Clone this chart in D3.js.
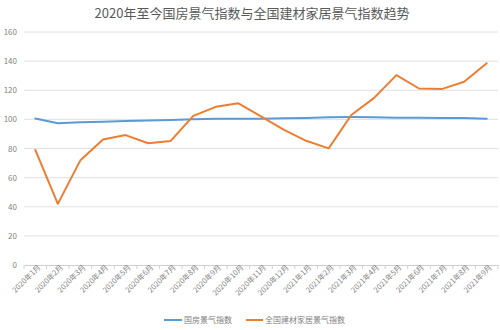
<!DOCTYPE html>
<html><head><meta charset="utf-8">
<script src="https://cdn.jsdelivr.net/npm/d3@7"></script>
<style>body{margin:0;background:#fff}svg{display:block}</style>
</head><body>
<svg id="c" width="500" height="330"></svg>
<script>
const categories = ["2020年1月","2020年2月","2020年3月","2020年4月","2020年5月","2020年6月","2020年7月","2020年8月","2020年9月","2020年10月","2020年11月","2020年12月","2021年1月","2021年2月","2021年3月","2021年4月","2021年5月","2021年6月","2021年7月","2021年8月","2021年9月"];
const guofang = [100.6,97.4,98.0,98.4,98.8,99.2,99.6,100.1,100.4,100.5,100.5,100.7,101.0,101.4,101.6,101.5,101.2,101.1,101.0,100.9,100.5];
const jiancai = [79,42,72,86.2,89.2,83.6,85.2,102.4,108.6,111,102,93,85.3,80.1,103,114.6,130.4,121.2,120.8,125.8,138.5];
const yTicks = [0,20,40,60,80,100,120,140,160];
const seriesNames = ["国房景气指数","全国建材家居景气指数"];
const colors = ["#5b9bd5","#ed7d31"];

const svg = d3.select("#c");
const font = "'Noto Sans CJK SC', 'Noto Sans', sans-serif";
const L = 24, R = 498, T = 32, B = 265;
const x = d3.scaleBand().domain(categories).range([L, R]);
const y = d3.scaleLinear().domain([0,160]).range([B, T]);

svg.append("text").attr("x",252).attr("y",18).attr("text-anchor","middle")
  .attr("font-family",font).attr("font-size",13).attr("fill","#595959")
  .text("2020年至今国房景气指数与全国建材家居景气指数趋势");

// gridlines
svg.append("g").selectAll("line").data(yTicks.filter(d=>d>0)).join("line")
  .attr("x1",L).attr("x2",R).attr("y1",d=>y(d)).attr("y2",d=>y(d))
  .attr("stroke","#e0e0e0").attr("stroke-width",1);

// y labels
svg.append("g").selectAll("text").data(yTicks).join("text")
  .attr("x",17).attr("y",d=>y(d)+3).attr("text-anchor","end")
  .attr("font-family",font).attr("font-size",8).attr("fill","#7f7f7f")
  .text(d=>d);

// x axis
const xa = svg.append("g").attr("transform",`translate(0,${B})`)
  .call(d3.axisBottom(x).tickSize(4).tickSizeOuter(0));
xa.select(".domain").attr("stroke","#d0d0d0");
xa.selectAll(".tick line").attr("stroke","#d0d0d0")
  .attr("transform",`translate(${-x.bandwidth()/2},0)`);
xa.selectAll(".tick text").attr("font-family",font).attr("font-size",7.5).attr("fill","#7f7f7f")
  .attr("text-anchor","end").attr("dy",0).attr("y",6).attr("x",2)
  .attr("transform","rotate(-45)");
// extra last tick at right edge
svg.append("line").attr("x1",R).attr("x2",R).attr("y1",B).attr("y2",B+4).attr("stroke","#d0d0d0");

const line = d3.line().x((d,i)=>x(categories[i])+x.bandwidth()/2).y(d=>y(d));
[guofang, jiancai].forEach((s,k)=>{
  svg.append("path").datum(s).attr("d",line).attr("fill","none")
    .attr("stroke",colors[k]).attr("stroke-width",2).attr("stroke-linejoin","round").attr("stroke-linecap","round");
});

// legend
const leg = [{x:164, w:18, tx:184},{x:246, w:17, tx:265}];
leg.forEach((p,k)=>{
  svg.append("line").attr("x1",p.x).attr("x2",p.x+p.w).attr("y1",320).attr("y2",320)
    .attr("stroke",colors[k]).attr("stroke-width",2);
  svg.append("text").attr("x",p.tx).attr("y",323).attr("font-family",font).attr("font-size",8)
    .attr("fill","#7f7f7f").text(seriesNames[k]);
});
</script>
</body></html>
